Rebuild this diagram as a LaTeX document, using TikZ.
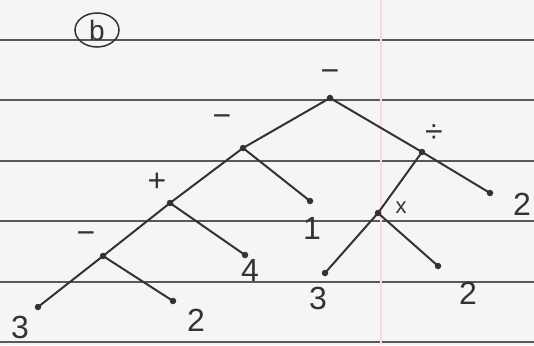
\documentclass[tikz,border=0pt]{standalone}
\usepackage{fontspec}
\setmainfont{Liberation Sans}
\usetikzlibrary{shapes.geometric}
\begin{document}
\begin{tikzpicture}[x=1pt,y=-1pt,
  dotn/.style={circle,fill=black!80,inner sep=0pt,minimum size=6.5pt},
  edge/.style={draw=black!80,line width=2pt,line cap=round},
  lab/.style={font=\fontsize{32}{32}\selectfont,text=black!80,inner sep=0pt},
  rule/.style={draw=black!65,line width=1.8pt}]
\fill[black!4] (0,0) rectangle (534,345);
\useasboundingbox (0,0) rectangle (534,345);
% ruled lines
\foreach \y in {40,100,161,221,282,342}
  \draw[rule] (0,\y) -- (534,\y);
\draw[red!15,line width=2pt] (381,0) -- (381,345);
% (b)
\node[draw=black!80,ellipse,line width=1.5pt,inner sep=1pt,minimum width=44pt,minimum height=34pt,font=\fontsize{28}{28}\selectfont,text=black!80] (tag) at (97,30) {b};
% nodes
\node[dotn] (r) at (330,98) {};
\node[dotn] (m1) at (243,148) {};
\node[dotn] (dv) at (422,152) {};
\node[dotn] (p) at (170,203) {};
\node[dotn] (l1) at (310,201) {};
\node[dotn] (mu) at (378,213) {};
\node[dotn] (l2r) at (490,193) {};
\node[dotn] (m2) at (103,256) {};
\node[dotn] (l4) at (245,255) {};
\node[dotn] (l3m) at (325,273) {};
\node[dotn] (l2m) at (438,266) {};
\node[dotn] (l3l) at (38,307) {};
\node[dotn] (l2b) at (173,301) {};
% labels
\node[lab] (tr) at (330,76) {−};
\node[lab] (tm1) at (222,121) {−};
\node[lab] (tdv) at (434,134) {÷};
\node[lab] (tp) at (157,182) {+};
\node[lab] (tl1) at (312,228) {1};
\node[lab,font=\fontsize{22}{22}\selectfont] (tmu) at (401,208) {x};
\node[lab] (tl2r) at (522,204) {2};
\node[lab] (tm2) at (86,238) {−};
\node[lab] (tl4) at (250,270) {4};
\node[lab] (tl3m) at (318,298) {3};
\node[lab] (tl2m) at (468,293) {2};
\node[lab] (tl3l) at (20,327) {3};
\node[lab] (tl2b) at (196,320) {2};
% edges
\draw[edge] (r.center) -- (m1.center);
\draw[edge] (r.center) -- (dv.center);
\draw[edge] (m1.center) -- (p.center);
\draw[edge] (m1.center) -- (l1.center);
\draw[edge] (dv.center) -- (mu.center);
\draw[edge] (dv.center) -- (l2r.center);
\draw[edge] (p.center) -- (m2.center);
\draw[edge] (p.center) -- (l4.center);
\draw[edge] (mu.center) -- (l3m.center);
\draw[edge] (mu.center) -- (l2m.center);
\draw[edge] (m2.center) -- (l3l.center);
\draw[edge] (m2.center) -- (l2b.center);
\end{tikzpicture}
\end{document}
